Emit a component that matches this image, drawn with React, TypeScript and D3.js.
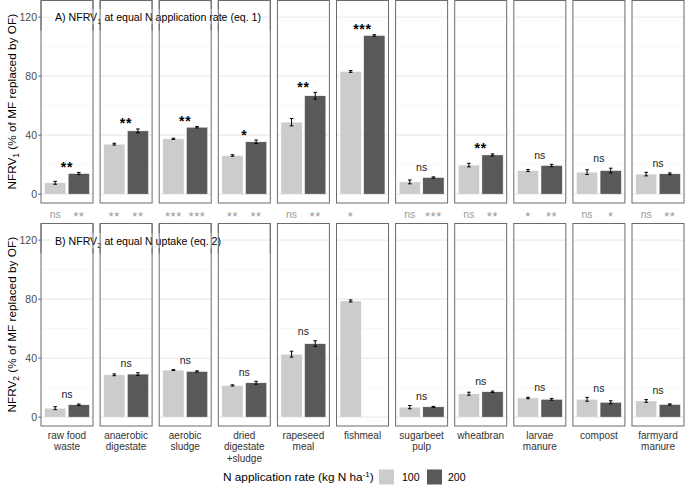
import React from 'react';
import * as d3 from 'd3';

// materials (facets)
const materials = [
  ['raw food', 'waste'],
  ['anaerobic', 'digestate'],
  ['aerobic', 'sludge'],
  ['dried', 'digestate', '+sludge'],
  ['rapeseed', 'meal'],
  ['fishmeal'],
  ['sugarbeet', 'pulp'],
  ['wheatbran'],
  ['larvae', 'manure'],
  ['compost'],
  ['farmyard', 'manure'],
];
const rates = ['100', '200'];

// A) NFRV1 at equal N application rate
const a100 = [7.7, 33.9, 37.5, 26.2, 48.8, 83.2, 8.3, 19.7, 16.0, 14.9, 13.6];
const a100se = [1.0, 0.6, 0.4, 0.5, 2.5, 0.6, 1.3, 1.2, 0.7, 1.6, 1.2];
const a200 = [14.0, 42.9, 45.4, 35.5, 66.7, 107.6, 11.3, 26.6, 19.4, 16.0, 13.8];
const a200se = [0.7, 1.3, 0.5, 1.2, 2.3, 0.5, 0.4, 0.7, 0.8, 1.6, 0.6];

// B) NFRV2 at equal N uptake
const b100 = [6.1, 28.7, 31.9, 21.5, 42.7, 78.8, 6.8, 15.9, 13.0, 12.1, 11.0];
const b100se = [1.0, 0.6, 0.3, 0.4, 2.0, 0.7, 1.1, 1.0, 0.5, 1.3, 0.9];
const b200 = [8.4, 29.2, 31.0, 23.3, 49.8, null, 7.0, 17.2, 12.1, 10.1, 8.6];
const b200se = [0.5, 0.9, 0.4, 1.0, 2.0, null, 0.3, 0.5, 0.6, 1.0, 0.4];

// significance between rates within panel
const sigA = ['**', '**', '**', '*', '**', '***', 'ns', '**', 'ns', 'ns', 'ns'];
const sigB = ['ns', 'ns', 'ns', 'ns', 'ns', '', 'ns', 'ns', 'ns', 'ns', 'ns'];
// significance between NFRV1 and NFRV2 per rate
const sigAB100 = ['ns', '**', '***', '**', 'ns', '*', 'ns', 'ns', '*', 'ns', 'ns'];
const sigAB200 = ['**', '**', '***', '**', '**', '', '***', '**', '**', '*', '**'];

const yTicks = [0, 40, 80, 120];
const yMinor = [20, 60, 100];

const W = 685;
const H = 485;
const font = "'Liberation Sans', Arial, Helvetica, sans-serif";
const fill = { '100': '#cccccc', '200': '#595959' };

const panelLeft = 41;
const panelW = 52;
const panelStep = 59.1;
const panelH = 202.5;
const topA = 0.5;
const topB = 223.5;

function Sub({ t }: { t: string }) {
  return (
    <tspan dy={3} fontSize="0.72em">{t}</tspan>
  );
}

function App() {
  const x = d3.scaleBand<string>().domain(rates).range([0, panelW]).paddingInner(0.1).paddingOuter(0.15);
  const yA = d3.scaleLinear().domain([-6, 131.3]).range([topA + panelH, topA]);
  const yB = d3.scaleLinear().domain([-6, 131.3]).range([topB + panelH, topB]);

  const panels = [
    { y: yA, top: topA, m: [a100, a200], se: [a100se, a200se], sig: sigA, bold: true },
    { y: yB, top: topB, m: [b100, b200], se: [b100se, b200se], sig: sigB, bold: false },
  ];

  const labelY = (center: number, s: string, fs: number) =>
    center + (s.startsWith('*') ? 0.57 * fs : 0.26 * fs);

  return (
    <svg width={W} height={H} style={{ position: 'absolute', left: 0, top: 0, background: '#fff' }} fontFamily={font}>
      {panels.map((p, pi) => (
        <g key={pi}>
          {/* y axis */}
          {yTicks.map((t) => (
            <g key={t}>
              <line x1={panelLeft - 2.7} x2={panelLeft} y1={p.y(t)} y2={p.y(t)} stroke="#333" strokeWidth={0.8} />
              <text x={panelLeft - 4} y={p.y(t) + 3.6} textAnchor="end" fontSize={10.5} fill="#4d4d4d">{t}</text>
            </g>
          ))}
          {materials.map((mat, i) => {
            const x0 = panelLeft + i * panelStep;
            const tops: number[] = [];
            return (
              <g key={i} transform={`translate(${x0},0)`}>
                <rect x={0} y={p.top} width={panelW} height={panelH} fill="#fff" />
                {yMinor.map((t) => (
                  <line key={'m' + t} x1={0} x2={panelW} y1={p.y(t)} y2={p.y(t)} stroke="#f3f3f3" strokeWidth={0.7} />
                ))}
                {yTicks.map((t) => (
                  <line key={'g' + t} x1={0} x2={panelW} y1={p.y(t)} y2={p.y(t)} stroke="#ebebeb" strokeWidth={1.1} />
                ))}
                {rates.map((r, ri) => {
                  const v = p.m[ri][i];
                  const e = p.se[ri][i];
                  if (v == null || e == null) return null;
                  tops.push(v + e);
                  const bx = x(r)!;
                  const cx = bx + x.bandwidth() / 2;
                  return (
                    <g key={r}>
                      <rect x={bx} y={p.y(v)} width={x.bandwidth()} height={p.y(0) - p.y(v)} fill={fill[r as '100' | '200']} stroke="#fff" strokeWidth={0.5} />
                      <line x1={cx} x2={cx} y1={p.y(v - e)} y2={p.y(v + e)} stroke="#000" strokeWidth={1} />
                      <line x1={cx - 1.8} x2={cx + 1.8} y1={p.y(v - e)} y2={p.y(v - e)} stroke="#000" strokeWidth={1} />
                      <line x1={cx - 1.8} x2={cx + 1.8} y1={p.y(v + e)} y2={p.y(v + e)} stroke="#000" strokeWidth={1} />
                    </g>
                  );
                })}
                {p.sig[i] && (() => {
                  const s = p.sig[i];
                  const isStar = s.startsWith('*');
                  const fs = isStar ? 14 : 10.5;
                  const c = p.y(d3.max(tops)!) - 8.5;
                  return (
                    <text x={panelW / 2} y={labelY(c, s, fs)} textAnchor="middle" fontSize={fs}
                      fontWeight={isStar && p.bold ? 'bold' : 'normal'} fill={isStar ? '#000' : '#222'}
                      letterSpacing={isStar ? 0.8 : 0}>{s}</text>
                  );
                })()}
                <rect x={0} y={p.top} width={panelW} height={panelH} fill="none" stroke="#6b6b6b" strokeWidth={1} />
              </g>
            );
          })}
        </g>
      ))}

      {/* panel titles */}
      <rect x={52} y={9} width={211} height={15} fill="#fff" />
      <text x={55} y={20.5} fontSize={10.6} fill="#000">A) NFRV<Sub t="1" /><tspan dy={-3}> at equal N application rate (eq. 1)</tspan></text>
      <rect x={52} y={233} width={170} height={15} fill="#fff" />
      <text x={55} y={244.5} fontSize={10.6} fill="#000">B) NFRV<Sub t="2" /><tspan dy={-3}> at equal N uptake (eq. 2)</tspan></text>
      {/* redraw borders over title boxes */}
      {[0, 1, 2, 3].map((i) => (
        <g key={'rb' + i}>
          <line x1={panelLeft + i * panelStep + panelW} x2={panelLeft + i * panelStep + panelW} y1={topA} y2={topA + 30} stroke="#6b6b6b" />
          <line x1={panelLeft + i * panelStep} x2={panelLeft + i * panelStep} y1={topA} y2={topA + 30} stroke="#6b6b6b" />
          <line x1={panelLeft + i * panelStep + panelW} x2={panelLeft + i * panelStep + panelW} y1={topB} y2={topB + 30} stroke="#6b6b6b" />
          <line x1={panelLeft + i * panelStep} x2={panelLeft + i * panelStep} y1={topB} y2={topB + 30} stroke="#6b6b6b" />
        </g>
      ))}

      {/* comparison row between panels */}
      {materials.map((_, i) => {
        const x0 = panelLeft + i * panelStep;
        return [sigAB100[i], sigAB200[i]].map((s, ri) => {
          if (!s) return null;
          const cx = x0 + x(rates[ri])! + x.bandwidth() / 2;
          const isStar = s.startsWith('*');
          const fs = isStar ? 13 : 10.5;
          return (
            <text key={i + '-' + ri} x={cx} y={labelY(isStar ? 214 : 214.8, s, fs)} textAnchor="middle" fontSize={fs} fill="#9a9a9a" letterSpacing={isStar ? 0.6 : 0}>{s}</text>
          );
        });
      })}

      {/* y axis titles */}
      <text transform={`translate(15.5,${topA + panelH / 2}) rotate(-90)`} textAnchor="middle" fontSize={11.8} fill="#000">
        NFRV<Sub t="1" /><tspan dy={-3}> (% of MF replaced by OF)</tspan>
      </text>
      <text transform={`translate(15.5,${topB + panelH / 2}) rotate(-90)`} textAnchor="middle" fontSize={11.8} fill="#000">
        NFRV<Sub t="2" /><tspan dy={-3}> (% of MF replaced by OF)</tspan>
      </text>

      {/* x labels */}
      {materials.map((lines, i) => (
        <text key={'xl' + i} x={panelLeft + i * panelStep + panelW / 2} y={438.6} textAnchor="middle" fontSize={10} fill="#333">
          {lines.map((l, li) => (
            <tspan key={li} x={panelLeft + i * panelStep + panelW / 2} dy={li === 0 ? 0 : 11.8}>{l}</tspan>
          ))}
        </text>
      ))}

      {/* legend */}
      <text x={223} y={481} fontSize={11.8} fill="#000">N application rate (kg N ha<tspan dy={-4} fontSize={8}>-1</tspan><tspan dy={4}>)</tspan></text>
      <rect x={379} y={469.5} width={15} height={15} fill={fill['100']} />
      <text x={402} y={481} fontSize={10.5} fill="#000">100</text>
      <rect x={427} y={469.5} width={15} height={15} fill={fill['200']} />
      <text x={448} y={481} fontSize={10.5} fill="#000">200</text>
    </svg>
  );
}

export default App;
